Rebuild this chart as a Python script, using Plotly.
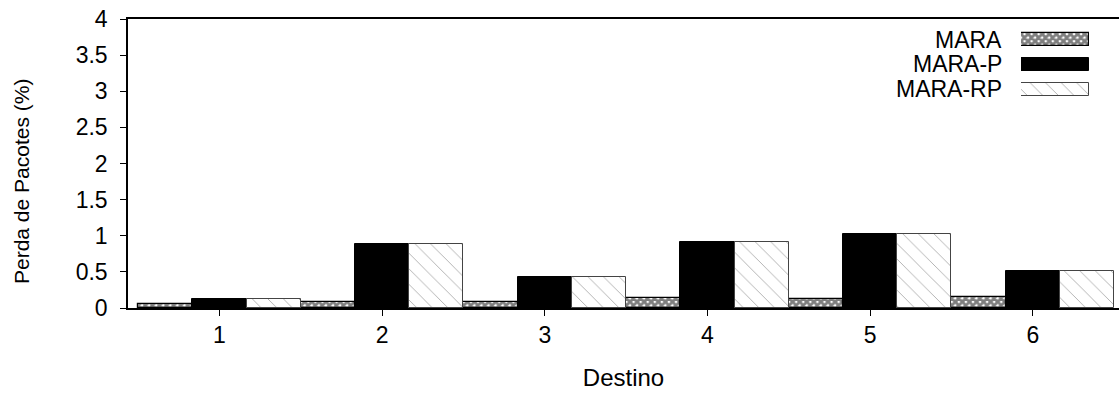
import plotly.graph_objects as go

# Packet loss per destination for the three protocol variants
destinos = [1, 2, 3, 4, 5, 6]
mara = [0.05, 0.08, 0.08, 0.14, 0.13, 0.155]
mara_p = [0.12, 0.88, 0.43, 0.91, 1.02, 0.51]
mara_rp = [0.12, 0.88, 0.43, 0.91, 1.02, 0.51]

series_names = ["MARA", "MARA-P", "MARA-RP"]
y_ticks = [0, 0.5, 1, 1.5, 2, 2.5, 3, 3.5, 4]
y_tick_text = ["0", "0.5", "1", "1.5", "2", "2.5", "3", "3.5", "4"]

FONT = "Liberation Sans, Arial, sans-serif"
W, H = 1119, 394

styles = {
    "MARA": dict(color="white",
                 marker_line=dict(color="black", width=1.2),
                 pattern=dict(shape="x", fgcolor="black", bgcolor="white",
                              size=5, solidity=0.8)),
    "MARA-P": dict(color="black",
                   marker_line=dict(color="black", width=1),
                   pattern=None),
    "MARA-RP": dict(color="white",
                    marker_line=dict(color="#444444", width=1),
                    pattern=dict(shape="\\", fgcolor="#555555", bgcolor="white",
                                 size=11, solidity=0.08)),
}

fig = go.Figure()
for name, vals in zip(series_names, [mara, mara_p, mara_rp]):
    st = styles[name]
    marker = dict(color=st["color"], line=st["marker_line"])
    if st["pattern"]:
        marker["pattern"] = st["pattern"]
    fig.add_trace(go.Bar(x=destinos, y=vals, name=name, marker=marker,
                         showlegend=False))

# Key swatches drawn as bars on a small inset axis, labels to their left
for i, name in enumerate(series_names):
    st = styles[name]
    marker = dict(color=st["color"], line=st["marker_line"])
    if st["pattern"]:
        marker["pattern"] = st["pattern"]
    fig.add_trace(go.Bar(x=[1], y=[i], orientation="h", marker=marker,
                         width=0.55, xaxis="x2", yaxis="y2",
                         showlegend=False, hoverinfo="skip"))

l, r, t, b = 128, 0, 19, 86
pw, ph = W - l - r, H - t - b


def fx(px):
    return (px - l) / pw


def fy(py):
    return 1 - (py - t) / ph


key_rows = [40, 64, 89]
for name, py in zip(series_names, key_rows):
    fig.add_annotation(x=fx(1003), y=fy(py), xref="paper", yref="paper",
                       text=name, showarrow=False, xanchor="right",
                       yanchor="middle", height=22, borderpad=0,
                       font=dict(family=FONT, size=23, color="black"))

# Y axis title
fig.add_annotation(x=fx(21), y=fy(182), xref="paper", yref="paper",
                   text="Perda de Pacotes (%)", textangle=-90, showarrow=False,
                   xanchor="center", yanchor="middle",
                   font=dict(family=FONT, size=21, color="black"))

fig.update_layout(
    width=W, height=H,
    margin=dict(l=l, r=r, t=t, b=b),
    paper_bgcolor="white", plot_bgcolor="white",
    barmode="group", bargap=0.0, bargroupgap=0.0,
    font=dict(family=FONT, size=23, color="black"),
    xaxis=dict(range=[0.438, 6.53], tickmode="array", tickvals=destinos,
               ticktext=[str(d) for d in destinos],
               tickfont=dict(family=FONT, size=23, color="black"),
               showline=True, linecolor="black", linewidth=1.5, mirror=True,
               ticks="outside", ticklen=6, tickcolor="black",
               showgrid=False, zeroline=False,
               title=dict(text="Destino", standoff=22,
                          font=dict(family=FONT, size=24, color="black"))),
    yaxis=dict(range=[0, 4], tickmode="array", tickvals=y_ticks,
               ticktext=y_tick_text, ticklabelstandoff=8,
               tickfont=dict(family=FONT, size=23, color="black"),
               showline=True, linecolor="black", linewidth=1.5,
               ticks="outside", ticklen=6, tickcolor="black",
               showgrid=False, zeroline=False),
    xaxis2=dict(domain=[fx(1021), fx(1089)], range=[0, 1], anchor="y2",
                visible=False, fixedrange=True),
    yaxis2=dict(domain=[fy(102), fy(27)], range=[2.5, -0.5], anchor="x2",
                visible=False, fixedrange=True),
)

fig.write_html("out.html")
